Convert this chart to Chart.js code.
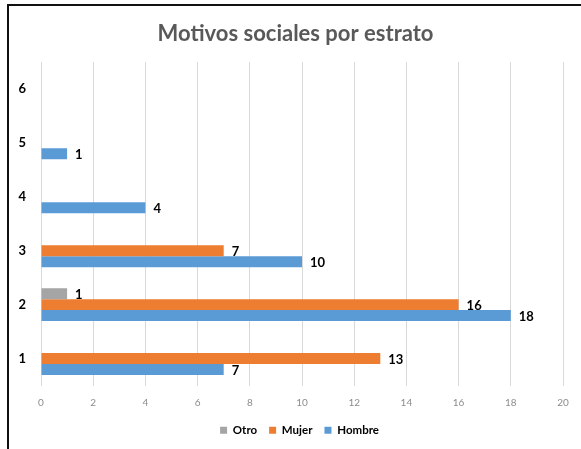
<!DOCTYPE html>
<html>
<head>
<meta charset="utf-8">
<script src="https://cdn.jsdelivr.net/npm/chart.js@4"></script>
<style>
  html, body { margin: 0; padding: 0; background: #fff; }
  #wrap { position: relative; width: 581px; height: 449px; overflow: hidden; }
  #frame { position: absolute; left: 7px; top: 4px; width: 700px; height: 600px;
           border-left: 2px solid #111; border-top: 2px solid #111; }
  canvas { position: absolute; left: 0; top: 0; }
</style>
</head>
<body>
<div id="wrap">
  <div id="frame"></div>
  <canvas id="c" width="581" height="449"></canvas>
</div>
<script>
const categories = ['1', '2', '3', '4', '5', '6'];
const otro   = [null, 1, null, null, null, null];
const mujer  = [13, 16, 7, null, null, null];
const hombre = [7, 18, 10, 4, 1, null];
const xTicks = [0, 2, 4, 6, 8, 10, 12, 14, 16, 18, 20];
const titleText = 'Motivos sociales por estrato';

Chart.defaults.font.family = 'Lato, "Open Sans", sans-serif';

const valueLabels = {
  id: 'valueLabels',
  afterDatasetsDraw(chart) {
    const ctx = chart.ctx;
    ctx.save();
    ctx.font = 'bold 13px Lato, sans-serif';
    ctx.fillStyle = '#000';
    ctx.textAlign = 'left';
    ctx.textBaseline = 'middle';
    chart.data.datasets.forEach((ds, i) => {
      const meta = chart.getDatasetMeta(i);
      meta.data.forEach((el, j) => {
        const v = ds.data[j];
        if (v === null || v === undefined) return;
        ctx.fillText(String(v), el.x + 8, el.y + 1);
      });
    });
    ctx.restore();
  }
};

// Centre title and legend like the original (offset to the right)
const shiftBlocks = {
  id: 'shiftBlocks',
  afterLayout(chart) {
    if (chart.titleBlock) chart.titleBlock.left += 28;
    if (chart.legend) chart.legend.left += 36;
  }
};

new Chart(document.getElementById('c'), {
  type: 'bar',
  data: {
    labels: categories,
    datasets: [
      { label: 'Otro', data: otro, backgroundColor: '#A5A5A5' },
      { label: 'Mujer', data: mujer, backgroundColor: '#ED7D31' },
      { label: 'Hombre', data: hombre, backgroundColor: '#5B9BD5' }
    ]
  },
  options: {
    indexAxis: 'y',
    responsive: false,
    animation: false,
    devicePixelRatio: 1,
    layout: { padding: { left: 0, right: 18, top: 0, bottom: 3 } },
    datasets: { bar: { barPercentage: 1, categoryPercentage: 0.61 } },
    scales: {
      x: {
        min: 0, max: 20,
        afterBuildTicks(scale) { scale.ticks = xTicks.map(v => ({ value: v })); },
        afterFit(scale) { scale.height = 27; },
        grid: { color: '#D9D9D9', drawTicks: false },
        border: { display: false },
        ticks: { color: '#8C8C8C', font: { size: 10 }, padding: 11 }
      },
      y: {
        reverse: true,
        afterFit(scale) { scale.width = 41; },
        grid: { display: false, drawTicks: false },
        border: { display: false },
        ticks: { color: '#000', font: { size: 13, weight: 'bold' }, padding: 15 }
      }
    },
    plugins: {
      title: {
        display: true,
        text: titleText,
        color: '#595959',
        font: { size: 22, weight: 'bold' },
        padding: { top: 21, bottom: 14.6 }
      },
      legend: {
        position: 'bottom',
        labels: {
          boxWidth: 7, boxHeight: 7, padding: 12,
          color: '#000',
          font: { size: 11.5, weight: 'bold' }
        }
      },
      tooltip: { enabled: false }
    }
  },
  plugins: [valueLabels, shiftBlocks]
});
</script>
</body>
</html>
